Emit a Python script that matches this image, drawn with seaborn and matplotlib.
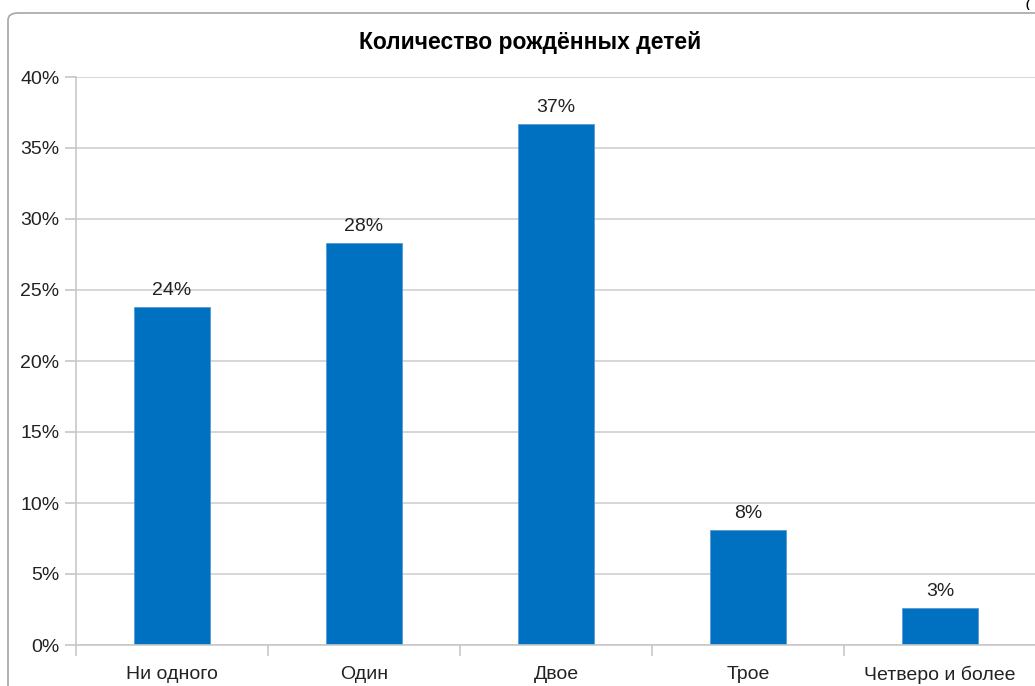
import matplotlib
matplotlib.use("Agg")
import matplotlib.pyplot as plt
import seaborn as sns
import pandas as pd
from matplotlib.patches import FancyBboxPatch
from matplotlib.ticker import FixedLocator, PercentFormatter

categories = ["Ни одного", "Один", "Двое", "Трое", "Четверо и более"]
values = [23.8, 28.3, 36.7, 8.1, 2.6]
labels = ["24%", "28%", "37%", "8%", "3%"]
title = "Количество рождённых детей"

sns.set_theme(style="white")
fam = ["Liberation Sans Narrow", "Liberation Sans", "DejaVu Sans"]
plt.rcParams["font.family"] = fam

fig = plt.figure(figsize=(10.35, 6.86), dpi=100)
W, H = 1035, 686

# outer chart frame
frame = FancyBboxPatch((8 / W, -0.05), 1.2, (H - 13) / H + 0.05,
                       boxstyle="round,pad=0,rounding_size=0.01",
                       transform=fig.transFigure, fill=False,
                       edgecolor="#A6A6A6", linewidth=1.2)
fig.patches.append(frame)

ax = fig.add_axes([76 / W, 41 / H, (W - 76) / W + 0.001, 568 / H])
df = pd.DataFrame({"cat": categories, "val": values})
sns.barplot(data=df, x="cat", y="val", color="#0070C0", width=0.4,
            saturation=1, ax=ax, edgecolor="#5B9BD5", linewidth=0.6)

ax.set_xlim(-0.5, 4.5)
ax.set_ylim(0, 40)
ax.set_yticks(range(0, 41, 5))
ax.yaxis.set_major_formatter(PercentFormatter(decimals=0))
ax.grid(axis="y", color="#D0D0D0", linewidth=1.2)
ax.set_axisbelow(True)
for s in ["top", "right"]:
    ax.spines[s].set_visible(False)
for s in ["left", "bottom"]:
    ax.spines[s].set_color("#C8C8C8")
    ax.spines[s].set_linewidth(1.2)

ax.tick_params(axis="y", which="major", length=8, color="#C8C8C8",
               labelsize=14, labelcolor="#222222", left=True, pad=4)
ax.tick_params(axis="x", which="major", length=0, labelsize=14,
               labelcolor="#222222", pad=15)
ax.xaxis.set_minor_locator(FixedLocator([-0.5, 0.5, 1.5, 2.5, 3.5, 4.5]))
ax.tick_params(axis="x", which="minor", length=8, color="#C8C8C8",
               width=1.2, bottom=True)
ax.set_xlabel("")
ax.set_ylabel("")

for i, (v, lab) in enumerate(zip(values, labels)):
    ax.annotate(lab, (i, v), xytext=(0, 6), textcoords="offset points",
                ha="center", va="bottom", fontsize=14, color="#222222")

fig.text(530 / W, (H - 42) / H, title, ha="center", va="center",
         fontsize=16.5, fontweight="bold", color="black")
fig.text(1027 / W, 1.0, "(", ha="center", va="top", fontsize=8,
         fontweight="bold", color="black")

fig.savefig("out.png", dpi=100)
